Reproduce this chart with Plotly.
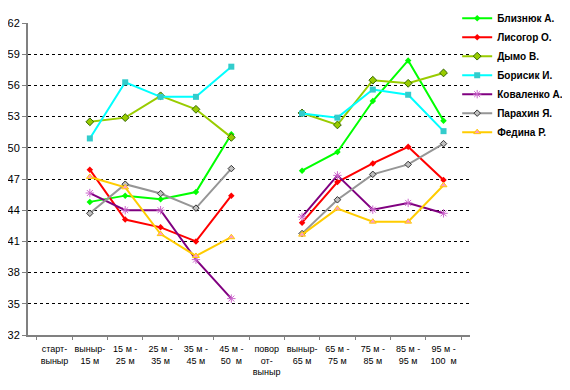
import plotly.graph_objects as go

categories = ["старт-<br>выныр", "выныр-<br>15 м", "15 м -<br>25 м", "25 м -<br>35 м",
              "35 м -<br>45 м", "45 м -<br>50  м", "повор<br>от-<br>выныр", "выныр-<br>65 м",
              "65 м -<br>75 м", "75 м -<br>85 м", "85 м -<br>95 м", "95 м -<br>100  м"]

blyznyuk = [None, 44.8, 45.4, 45.05, 45.75, 51.3, None, 47.8, 49.6, 54.5, 58.4, 52.6]
lysogor = [None, 47.9, 43.1, 42.35, 41.0, 45.4, None, 42.8, 46.7, 48.5, 50.1, 46.9]
dymo = [None, 52.5, 52.9, 55.0, 53.7, 51.0, None, 53.35, 52.2, 56.5, 56.2, 57.2]
borysyk = [None, 50.9, 56.3, 54.9, 54.9, 57.8, None, 53.3, 52.9, 55.6, 55.1, 51.6]
kovalenko = [None, 45.65, 44.0, 44.0, 39.25, 35.5, None, 43.35, 47.35, 44.05, 44.7, 43.7]
parakhin = [None, 43.7, 46.5, 45.6, 44.2, 48.0, None, 41.75, 45.0, 47.45, 48.4, 50.4]
fedyna = [None, 47.2, 46.2, 41.7, 39.6, 41.4, None, 41.65, 44.15, 42.9, 42.9, 46.4]

y_ticks = [32, 35, 38, 41, 44, 47, 50, 53, 56, 59, 62]
grid_ticks = [35, 38, 41, 44, 47, 50, 53, 56, 59]

series = [
    ("Близнюк А.", blyznyuk, "#00FF00", dict(symbol="diamond", size=5, color="#00FF00", line=dict(width=0))),
    ("Лисогор О.", lysogor, "#FF0000", dict(symbol="diamond", size=5, color="#FF0000", line=dict(width=0))),
    ("Дымо В.", dymo, "#99CC00", dict(symbol="diamond", size=6, color="#99CC00", line=dict(width=1, color="#336600"))),
    ("Борисик И.", borysyk, "#00FFFF", dict(symbol="square", size=6, color="#33CCCC", line=dict(width=0))),
    ("Коваленко А.", kovalenko, "#800080", dict(symbol="asterisk", size=7, color="#CC66CC", line=dict(width=1, color="#CC66CC"))),
    ("Парахин Я.", parakhin, "#969696", dict(symbol="diamond", size=5, color="#C0C0C0", line=dict(width=1, color="#333333"))),
    ("Федина Р.", fedyna, "#FFCC00", dict(symbol="triangle-up", size=6, color="#FF99CC", line=dict(width=1, color="#FFCC00"))),
]

fig = go.Figure()
# helper trace so the overlay grid axis is drawn
fig.add_trace(go.Scatter(x=[], y=[], yaxis="y2", showlegend=False, hoverinfo="skip"))
for name, vals, col, mk in series:
    fig.add_trace(go.Scatter(
        x=categories, y=vals, name=name, mode="lines+markers",
        line=dict(color=col, width=2), marker=mk, connectgaps=False,
    ))

# page body has an 8px margin, so the figure is 8px smaller and margins shifted
fig.update_layout(
    width=562, height=382,
    margin=dict(l=20, r=100, t=15, b=55, autoexpand=False),
    paper_bgcolor="white", plot_bgcolor="white",
    font=dict(family="Liberation Sans, Arial, sans-serif", color="black"),
    showlegend=True,
    legend=dict(x=0.971, xanchor="left", y=1.062, yanchor="top",
                font=dict(size=10, family="Liberation Sans, Arial, sans-serif", color="black", weight="bold"),
                bgcolor="rgba(0,0,0,0)", itemwidth=30, tracegroupgap=0),
    yaxis2=dict(overlaying="y", range=[32, 62], tickvals=grid_ticks, showticklabels=False,
                showgrid=True, gridcolor="black", griddash="dot", gridwidth=1,
                showline=False, ticks="", zeroline=False),
)
fig.update_xaxes(
    type="category", categoryorder="array", categoryarray=categories,
    showgrid=False, showline=True, linecolor="#808080", linewidth=2,
    ticks="outside", tickson="boundaries", ticklen=3, tickcolor="#808080",
    tickfont=dict(size=9), tickangle=0, ticklabelstandoff=4,
)
fig.update_layout(yaxis=dict(
    range=[32, 62], tickvals=y_ticks, showgrid=False,
    showline=True, linecolor="#808080", linewidth=2,
    ticks="outside", ticklen=4, tickcolor="#808080", tickfont=dict(size=11),
    zeroline=False,
))

fig.write_html("out.html")
